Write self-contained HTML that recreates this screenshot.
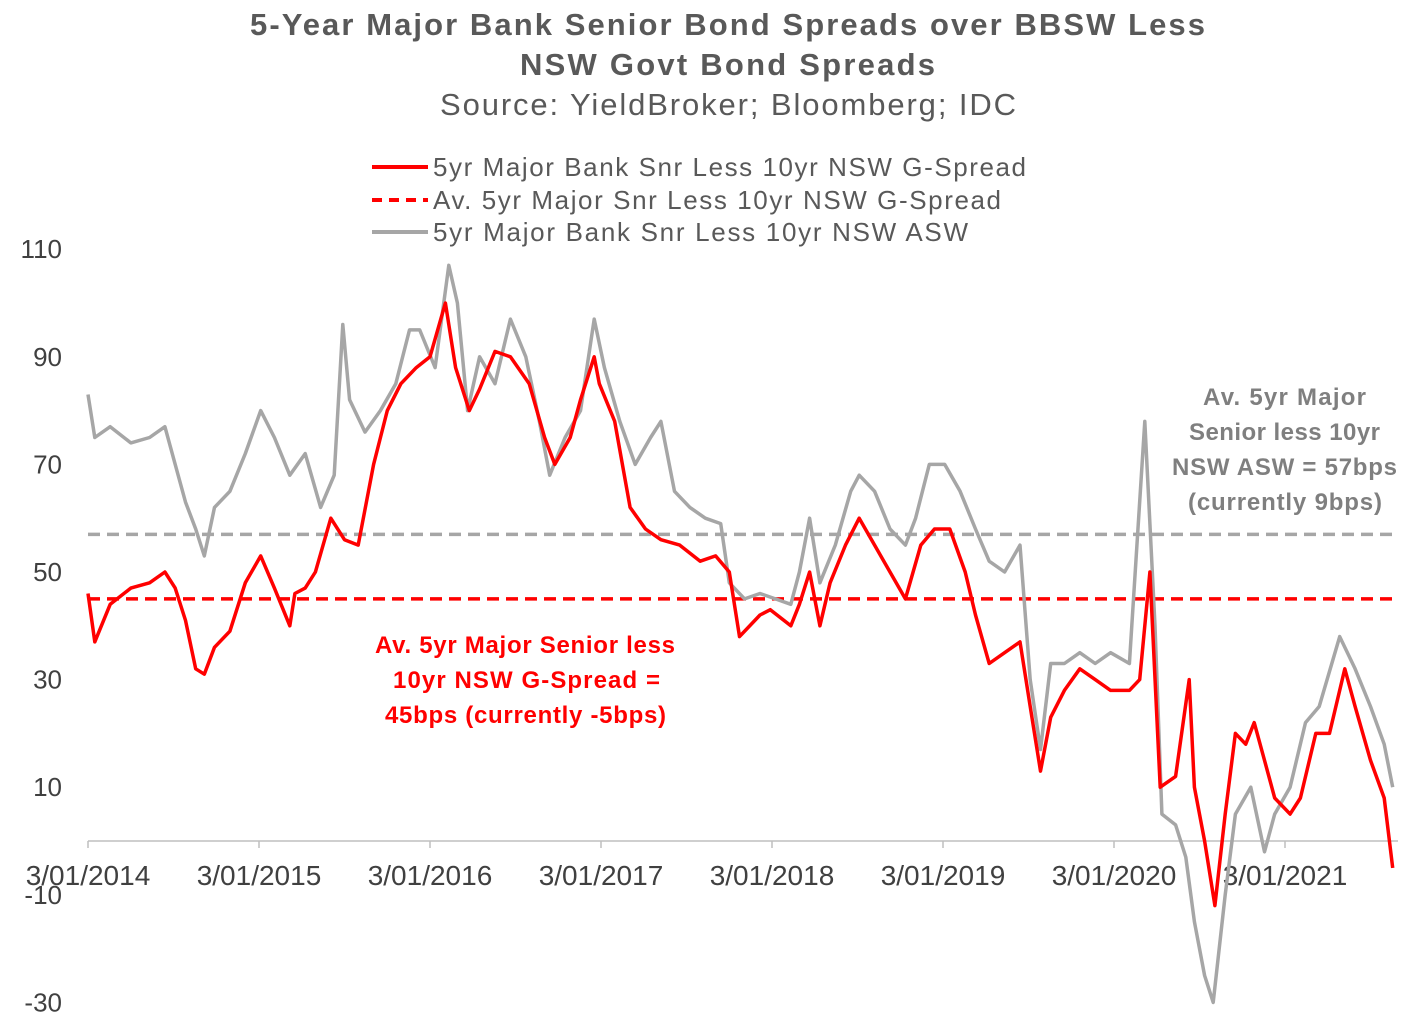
<!DOCTYPE html>
<html><head><meta charset="utf-8">
<style>
html,body{margin:0;padding:0;background:#fff;}
svg{display:block;font-family:"Liberation Sans",Arial,sans-serif;}
</style></head>
<body>
<svg id="chart" width="1417" height="1028" viewBox="0 0 1417 1028" xmlns="http://www.w3.org/2000/svg">
  <text x="250" y="35" textLength="955" lengthAdjust="spacing" font-size="31" font-weight="bold" fill="#595959">5-Year Major Bank Senior Bond Spreads over BBSW Less</text>
  <text x="520" y="75" textLength="415" lengthAdjust="spacing" font-size="31" font-weight="bold" fill="#595959">NSW Govt Bond Spreads</text>
  <text x="440" y="115" textLength="576" lengthAdjust="spacing" font-size="31" fill="#595959">Source: YieldBroker; Bloomberg; IDC</text>

  <g font-size="26" fill="#595959">
    <g>
      <line x1="372" y1="167" x2="428" y2="167" stroke="#ff0000" stroke-width="4"/>
      <text x="433" y="176" textLength="593" lengthAdjust="spacing">5yr Major Bank Snr Less 10yr NSW G-Spread</text>
    </g>
    <g>
      <line x1="372" y1="200" x2="428" y2="200" stroke="#ff0000" stroke-width="4" stroke-dasharray="10,7"/>
      <text x="433" y="209" textLength="568" lengthAdjust="spacing">Av. 5yr Major Snr Less 10yr NSW G-Spread</text>
    </g>
    <g>
      <line x1="372" y1="232" x2="428" y2="232" stroke="#a6a6a6" stroke-width="4"/>
      <text x="433" y="241" textLength="535" lengthAdjust="spacing">5yr Major Bank Snr Less 10yr NSW ASW</text>
    </g>
  </g>

  <g id="axes"></g>
  <g id="series"></g>

  <g font-size="24" font-weight="bold" fill="#ff0000">
    <text x="375" y="653" textLength="300" lengthAdjust="spacing">Av. 5yr Major Senior less</text>
    <text x="393" y="688" textLength="267" lengthAdjust="spacing">10yr NSW G-Spread  =</text>
    <text x="385" y="723" textLength="281" lengthAdjust="spacing">45bps (currently -5bps)</text>
  </g>
  <g font-size="24" font-weight="bold" fill="#7f7f7f">
    <text x="1203" y="405" textLength="163" lengthAdjust="spacing">Av. 5yr Major</text>
    <text x="1189" y="440" textLength="191" lengthAdjust="spacing">Senior less 10yr</text>
    <text x="1172" y="475" textLength="225" lengthAdjust="spacing">NSW ASW = 57bps</text>
    <text x="1188" y="510" textLength="194" lengthAdjust="spacing">(currently 9bps)</text>
  </g>
</svg>
<script>
const yTicks = [110, 90, 70, 50, 30, 10, -10, -30];
const xTickLabels = ["3/01/2014","3/01/2015","3/01/2016","3/01/2017","3/01/2018","3/01/2019","3/01/2020","3/01/2021"];
const avgGSpread = 45;
const avgASW = 57;
// time in years since 3/01/2014
const redT = [0,0.04,0.13,0.25,0.36,0.45,0.51,0.57,0.63,0.68,0.74,0.83,0.92,1.01,1.09,1.18,1.21,1.27,1.33,1.42,1.50,1.58,1.67,1.75,1.83,1.92,2.00,2.09,2.15,2.23,2.29,2.38,2.47,2.58,2.67,2.73,2.82,2.88,2.96,2.99,3.08,3.17,3.26,3.35,3.46,3.58,3.67,3.75,3.81,3.93,3.99,4.11,4.16,4.22,4.28,4.34,4.43,4.51,4.60,4.69,4.78,4.87,4.95,5.04,5.13,5.19,5.27,5.36,5.45,5.51,5.57,5.63,5.71,5.80,5.89,5.98,6.09,6.15,6.21,6.27,6.36,6.44,6.47,6.53,6.59,6.65,6.71,6.77,6.82,6.88,6.94,7.03,7.09,7.18,7.26,7.35,7.41,7.50,7.58,7.63];
const redV = [46,37,44,47,48,50,47,41,32,31,36,39,48,53,47,40,46,47,50,60,56,55,70,80,85,88,90,100,88,80,84,91,90,85,75,70,75,82,90,85,78,62,58,56,55,52,53,50,38,42,43,40,44,50,40,48,55,60,55,50,45,55,58,58,50,42,33,35,37,25,13,23,28,32,30,28,28,30,50,10,12,30,10,0,-12,5,20,18,22,15,8,5,8,20,20,32,25,15,8,-5];
const greyT = [0,0.04,0.13,0.25,0.36,0.45,0.51,0.57,0.63,0.68,0.74,0.83,0.92,1.01,1.09,1.18,1.27,1.36,1.44,1.49,1.53,1.62,1.71,1.80,1.88,1.94,2.03,2.11,2.16,2.22,2.29,2.38,2.47,2.56,2.64,2.70,2.79,2.88,2.96,3.02,3.11,3.20,3.29,3.35,3.43,3.52,3.61,3.70,3.75,3.84,3.93,4.02,4.11,4.16,4.22,4.28,4.37,4.46,4.51,4.60,4.69,4.78,4.84,4.92,5.01,5.10,5.19,5.27,5.36,5.45,5.51,5.57,5.63,5.71,5.80,5.89,5.98,6.09,6.18,6.24,6.28,6.36,6.42,6.47,6.53,6.58,6.65,6.71,6.80,6.88,6.94,7.03,7.12,7.20,7.32,7.41,7.50,7.58,7.63];
const greyV = [83,75,77,74,75,77,70,63,58,53,62,65,72,80,75,68,72,62,68,96,82,76,80,85,95,95,88,107,100,80,90,85,97,90,78,68,75,80,97,88,78,70,75,78,65,62,60,59,48,45,46,45,44,50,60,48,55,65,68,65,58,55,60,70,70,65,58,52,50,55,30,17,33,33,35,33,35,33,78,40,5,3,-3,-15,-25,-30,-10,5,10,-2,5,10,22,25,38,32,25,18,10];

const NS = "http://www.w3.org/2000/svg";
const x0 = 88, pxPerYear = 171, yZero = 841, pxPerUnit = 5.38;
const xs = t => x0 + t * pxPerYear;
const ys = v => yZero - v * pxPerUnit;
const axes = document.getElementById("axes");
const series = document.getElementById("series");
function mk(tag, attrs, parent){const e=document.createElementNS(NS,tag);for(const k in attrs)e.setAttribute(k,attrs[k]);parent.appendChild(e);return e;}

yTicks.forEach(v=>{
  const t = mk("text",{x:62,y:ys(v)+9,"text-anchor":"end","font-size":26,fill:"#404040"},axes);
  t.textContent = v;
  
  
});
const xAxis = mk("line",{x1:x0,y1:yZero,x2:1398,y2:yZero,stroke:"#bfbfbf","stroke-width":1.5},axes);


xTickLabels.forEach((l,i)=>{
  const tk = mk("line",{x1:xs(i),y1:yZero,x2:xs(i),y2:yZero+7,stroke:"#bfbfbf","stroke-width":1.5},axes);
  
  
  const t = mk("text",{x:xs(i),y:885,"text-anchor":"middle","font-size":28,fill:"#404040"},axes);
  t.textContent = l;
  
  
});

const tEnd = 7.63;
const gAvg = mk("line",{x1:xs(0),y1:ys(avgASW),x2:xs(tEnd),y2:ys(avgASW),stroke:"#a6a6a6","stroke-width":3.5,"stroke-dasharray":"12,7"},series);


const rAvg = mk("line",{x1:xs(0),y1:ys(avgGSpread),x2:xs(tEnd),y2:ys(avgGSpread),stroke:"#ff0000","stroke-width":3.5,"stroke-dasharray":"12,7"},series);



function path(T,V){return T.map((t,i)=>(i?"L":"M")+xs(t).toFixed(1)+","+ys(V[i]).toFixed(1)).join(" ");}
const gp = mk("path",{d:path(greyT,greyV),fill:"none",stroke:"#a6a6a6","stroke-width":3.5,"stroke-linejoin":"round"},series);


const rp = mk("path",{d:path(redT,redV),fill:"none",stroke:"#ff0000","stroke-width":3.5,"stroke-linejoin":"round"},series);


</script>
</body></html>
